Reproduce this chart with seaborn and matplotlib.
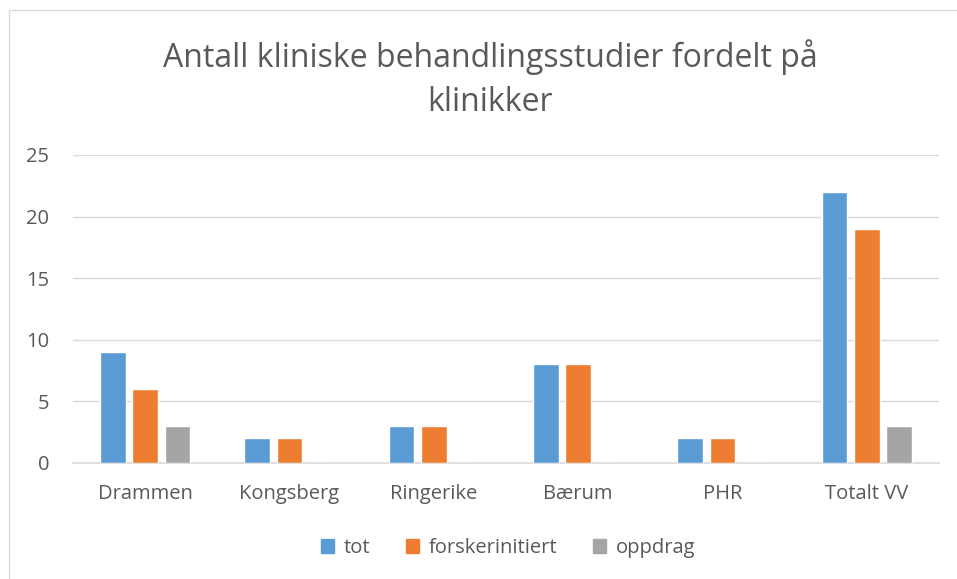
import pandas as pd
import matplotlib.pyplot as plt
import matplotlib.patches as mpatches
import seaborn as sns

# Data
klinikker = ['Drammen', 'Kongsberg', 'Ringerike', 'Bærum', 'PHR', 'Totalt VV']
tot = [9, 2, 3, 8, 2, 22]
forskerinitiert = [6, 2, 3, 8, 2, 19]
oppdrag = [3, 0, 0, 0, 0, 3]
serier = ['tot', 'forskerinitiert', 'oppdrag']
farger = ['#5B9BD5', '#ED7D31', '#A5A5A5']

df = pd.DataFrame({'klinikk': klinikker, 'tot': tot,
                   'forskerinitiert': forskerinitiert, 'oppdrag': oppdrag})
long = df.melt(id_vars='klinikk', var_name='serie', value_name='antall')

sns.set_style('white')
plt.rcParams['font.family'] = ['Open Sans', 'DejaVu Sans']
tekst = '#595959'

fig = plt.figure(figsize=(9.57, 5.79), dpi=100)
ax = fig.add_axes([73 / 957, 1 - 463 / 579, 866 / 957, 308 / 579])

sns.barplot(data=long, x='klinikk', y='antall', hue='serie', hue_order=serier,
            palette=farger, width=0.67, gap=0.2, saturation=1, ax=ax,
            legend=False, zorder=3)

ax.set_ylim(0, 25)
ax.set_yticks(range(0, 26, 5))
ax.set_xlim(-0.5, len(klinikker) - 0.5)
ax.yaxis.grid(True, color='#D9D9D9', linewidth=1.0, zorder=0)
ax.xaxis.grid(False)
for s in ['top', 'right', 'left']:
    ax.spines[s].set_visible(False)
ax.spines['bottom'].set_color('#D9D9D9')
ax.spines['bottom'].set_linewidth(1.2)
ax.set_xlabel('')
ax.set_ylabel('')
ax.tick_params(axis='both', length=0, labelsize=14.5, colors=tekst)
ax.tick_params(axis='x', pad=15)
ax.tick_params(axis='y', pad=17)

fig.text(0.512, 1 - 79 / 579, 'Antall kliniske behandlingsstudier fordelt på\nklinikker',
         ha='center', va='center', fontsize=23, color=tekst, linespacing=1.45)

handles = [mpatches.Patch(color=c, label=s) for s, c in zip(serier, farger)]
fig.legend(handles=handles, loc='center', bbox_to_anchor=(0.531, 1 - 548 / 579),
           ncol=3, frameon=False, fontsize=14.5, labelcolor=tekst,
           handlelength=0.65, handleheight=0.65, handletextpad=0.45,
           columnspacing=1.8)

# light chart-area border
fig.add_artist(mpatches.Rectangle((9 / 957, -0.1), 1.1, 1 - 10 / 579 + 0.1,
                                  transform=fig.transFigure, fill=False,
                                  edgecolor='#D9D9D9', linewidth=1.0))

fig.savefig('out.png', dpi=100)
